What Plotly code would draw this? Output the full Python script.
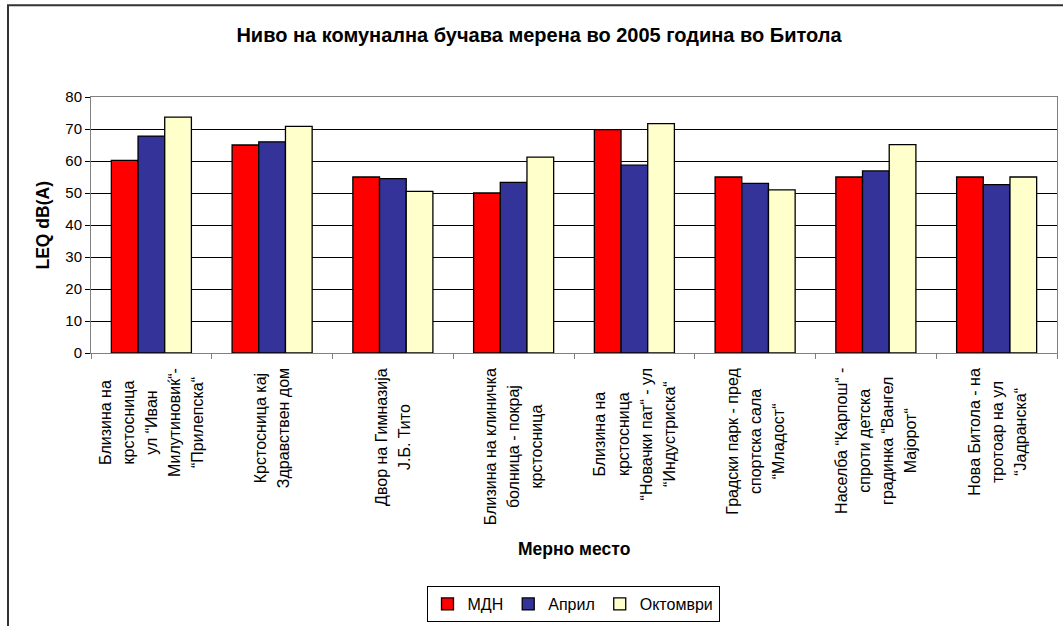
import plotly.graph_objects as go

# ---- data ----
label_lines = [
    ["Близина на", "крстосница", "ул “Иван", "Милутиновиќ“-", "“Прилепска“"],
    ["Крстосница кај", "Здравствен дом"],
    ["Двор на Гимназија", "Ј.Б. Тито"],
    ["Близина на клиничка", "болница - покрај", "крстосница"],
    ["Близина на", "крстосница", "“Новачки пат“ - ул", "“Индустриска“"],
    ["Градски парк - пред", "спортска сала", "“Младост“"],
    ["Населба “Карпош“ -", "спроти детска", "градинка “Вангел", "Мајорот“"],
    ["Нова Битола - на", "тротоар на ул", "“Јадранска“"],
]
categories = [" ".join(l) for l in label_lines]

mdn = [60.2, 65.0, 55.0, 50.0, 69.8, 55.0, 55.0, 55.0]
april = [67.8, 66.0, 54.5, 53.3, 58.7, 53.0, 56.9, 52.6]
oktomvri = [73.7, 70.8, 50.5, 61.2, 71.7, 51.0, 65.1, 55.0]

series_names = ["МДН", "Април", "Октомври"]
series_colors = ["#FF0000", "#333399", "#FFFFCC"]
y_ticks = [0, 10, 20, 30, 40, 50, 60, 70, 80]

FONT = "Liberation Sans, Arial, sans-serif"

fig = go.Figure()
for name, vals, col in zip(series_names, [mdn, april, oktomvri], series_colors):
    fig.add_trace(go.Bar(
        x=categories, y=vals, name=name,
        marker=dict(color=col, line=dict(color="black", width=1.3)),
    ))

W, H = 1063, 626
L, R, T, B = 91, 6, 97, 272
pw = W - L - R
ph = H - T - B

def px_x(p):
    return (p - L) / pw

def px_y(p):
    return (H - B - p) / ph

annotations = []
# category labels (rotated, centered lines)
for cat, lines in zip(categories, label_lines):
    txt = "<br>".join('<span style="font-size:16px">%s</span>' % s for s in lines)
    annotations.append(dict(
        x=cat, xref="x", y=0, yref="paper", yshift=-13,
        text=txt, textangle=-90, showarrow=False, align="center",
        xanchor="center", yanchor="top",
        font=dict(family=FONT, size=17.8, color="black"),
    ))
# axis titles
annotations.append(dict(
    x=px_x(574), xref="paper", y=px_y(551), yref="paper",
    text="<b>Мерно место</b>", showarrow=False,
    font=dict(family=FONT, size=17.5, color="black"),
    xanchor="center", yanchor="middle",
))
annotations.append(dict(
    x=px_x(43), xref="paper", y=px_y(226), yref="paper",
    text="<b>LEQ dB(A)</b>", showarrow=False, textangle=-90,
    font=dict(family=FONT, size=17.5, color="black"),
    xanchor="center", yanchor="middle",
))

fig.update_layout(
    width=W, height=H,
    margin=dict(l=L, r=R, t=T, b=B),
    paper_bgcolor="white", plot_bgcolor="white",
    font=dict(family=FONT, size=15, color="black"),
    title=dict(
        text="<b>Ниво на комунална бучава мерена во 2005 година во Битола</b>",
        x=539 / W, xanchor="center", y=1 - 35 / H, yanchor="middle",
        font=dict(family=FONT, size=20, color="black"),
    ),
    barmode="group", bargap=0.337, bargroupgap=0,
    showlegend=True,
    legend=dict(
        orientation="h", x=px_x(573), xanchor="center",
        y=px_y(586), yanchor="top",
        bordercolor="black", borderwidth=1,
        font=dict(family=FONT, size=16, color="black"),
        itemwidth=30, tracegroupgap=0,
    ),
    annotations=annotations,
    shapes=[dict(
        type="rect", xref="paper", yref="paper",
        x0=px_x(8), x1=px_x(1075), y0=px_y(640), y1=px_y(5),
        line=dict(color="#333333", width=2), fillcolor="rgba(0,0,0,0)",
        layer="below",
    )],
)

fig.update_xaxes(
    type="category", showticklabels=False,
    ticks="outside", ticklen=5, tickcolor="#808080", tickson="boundaries",
    showline=True, linecolor="#808080", linewidth=1, mirror=True,
    showgrid=False,
)
fig.update_yaxes(
    range=[0, 80], tickvals=y_ticks, ticktext=[str(v) for v in y_ticks],
    ticks="outside", ticklen=5, tickcolor="black",
    showline=True, linecolor="#808080", linewidth=1, mirror=True,
    showgrid=True, gridcolor="black", gridwidth=1, zeroline=False,
    tickfont=dict(family=FONT, size=15, color="black"),
)

fig.write_html("out.html")
